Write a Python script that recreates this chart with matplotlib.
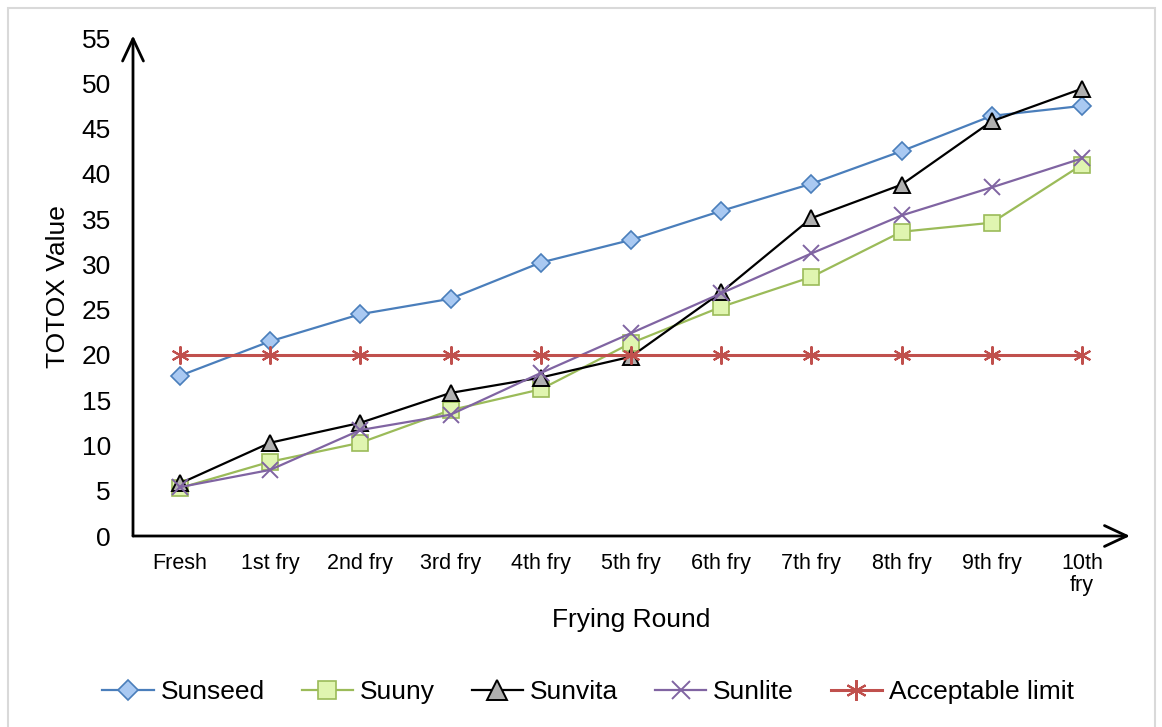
# TOTOX value vs frying round for four sunflower oils

import matplotlib
matplotlib.use('Agg')
import matplotlib.pyplot as plt
from matplotlib.patches import Rectangle

rounds = ["Fresh", "1st fry", "2nd fry", "3rd fry", "4th fry", "5th fry",
          "6th fry", "7th fry", "8th fry", "9th fry", "10th\nfry"]
sunseed = [17.7, 21.5, 24.5, 26.2, 30.2, 32.7, 35.9, 38.9, 42.5, 46.4, 47.5]
suuny = [5.3, 8.2, 10.3, 13.9, 16.2, 21.3, 25.3, 28.6, 33.6, 34.6, 41.0]
sunvita = [5.8, 10.3, 12.5, 15.8, 17.5, 19.8, 26.9, 35.1, 38.8, 45.8, 49.4]
sunlite = [5.4, 7.3, 11.7, 13.4, 18.0, 22.4, 26.8, 31.2, 35.4, 38.5, 41.7]
limit = [20] * 11

plt.rcParams['font.family'] = ['Liberation Sans', 'DejaVu Sans']

fig = plt.figure(figsize=(11.62, 7.27), dpi=100)
ax = fig.add_axes([133/1162, 1 - 536/727, (1127-133)/1162, (536-38)/727])

x = list(range(len(rounds)))
ax.plot(x, sunseed, color='#4a7ebb', lw=1.6, marker='D', ms=9,
        mfc='#a9c9f2', mec='#4a7ebb', mew=1.2, label='Sunseed')
ax.plot(x, suuny, color='#9bbb59', lw=1.6, marker='s', ms=11,
        mfc='#e0f5b0', mec='#9bbb59', mew=1.2, label='Suuny')
ax.plot(x, sunvita, color='black', lw=1.6, marker='^', ms=12,
        mfc='#b0b0b0', mec='black', mew=1.4, label='Sunvita')
ax.plot(x, sunlite, color='#8064a2', lw=1.6, marker='x', ms=11,
        mew=1.4, label='Sunlite')
ax.plot(x, limit, color='#c0504d', lw=2.2, marker=(6, 2, 0), ms=13,
        mew=1.5, label='Acceptable limit')

ax.set_xlim(-0.52, 10.5)
ax.set_ylim(0, 55)
ax.set_yticks(range(0, 56, 5))
ax.set_xticks(x)
ax.set_xticklabels(rounds, fontsize=15.5, linespacing=1.1)
ax.tick_params(axis='y', labelsize=19, length=0, pad=16)
ax.tick_params(axis='x', length=0, pad=12)
for s in ax.spines.values():
    s.set_visible(False)

# axis lines with open arrow heads
ax.annotate('', xy=(0, 1.005), xytext=(0, 0), xycoords='axes fraction',
            arrowprops=dict(arrowstyle='->,head_length=1.6,head_width=0.75', lw=2, color='black',
                            shrinkA=0, shrinkB=0))
ax.annotate('', xy=(1.003, 0), xytext=(0, 0), xycoords='axes fraction',
            arrowprops=dict(arrowstyle='->,head_length=1.6,head_width=0.75', lw=2, color='black',
                            shrinkA=0, shrinkB=0))

ax.set_ylabel('TOTOX Value', fontsize=19, labelpad=8)
fig.text(631/1162, 1 - 620/727, 'Frying Round', fontsize=19, ha='center', va='center')

fig.legend(loc='center', bbox_to_anchor=(588/1162, 1 - 692/727), ncol=5, frameon=False,
           fontsize=19, handlelength=1.95, handletextpad=0.25, columnspacing=1.4,
           markerscale=1.15)

fig.patches.append(Rectangle((8/1162, -0.02), (1155-8)/1162, 1.02 - 8/727, transform=fig.transFigure,
                             fill=False, edgecolor='#d9d9d9', lw=1.5))

fig.savefig('out.png', dpi=100)
